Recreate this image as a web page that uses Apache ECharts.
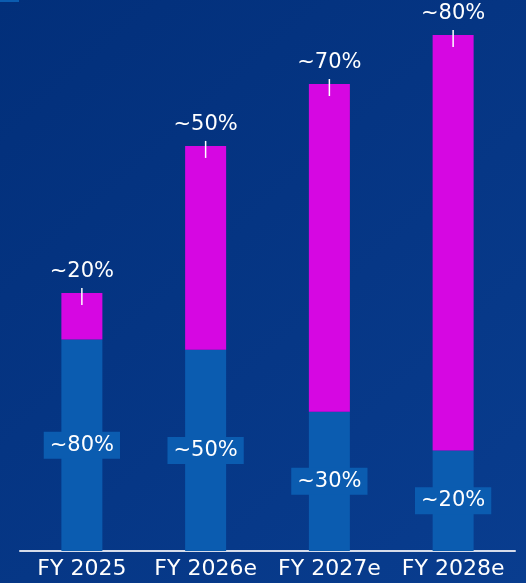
<!DOCTYPE html>
<html>
<head>
<meta charset="utf-8">
<script src="https://cdn.jsdelivr.net/npm/echarts@6/dist/echarts.min.js"></script>
<style>
html,body{margin:0;padding:0;background:#04327e;}
#chart{width:526px;height:583px;}
</style>
</head>
<body>
<div id="chart"></div>
<script>
// Categories and values (index, FY 2025 total = 100)
var categories = ['FY 2025', 'FY 2026e', 'FY 2027e', 'FY 2028e'];
var baseValues = [82, 78, 54, 39];        // blue segment
var growthValues = [18, 79, 127, 161];    // magenta segment
var baseLabels = ['~80%', '~50%', '~30%', '~20%'];
var growthLabels = ['~20%', '~50%', '~70%', '~80%'];

var FONT = 'DejaVu Sans';
var chart = echarts.init(document.getElementById('chart'), null, {renderer: 'canvas'});

chart.setOption({
  animation: false,
  backgroundColor: {
    type: 'linear', x: 0, y: 0, x2: 1, y2: 1,
    colorStops: [{offset: 0, color: '#022f7a'}, {offset: 1, color: '#093d8f'}]
  },
  graphic: [{
    type: 'rect', left: 0, top: 0,
    shape: {width: 19, height: 2},
    style: {fill: '#0b5cb0'}
  }],
  grid: {left: 20, right: 11, top: 35, bottom: 32, containLabel: false},
  xAxis: {
    type: 'category',
    data: categories,
    axisLine: {show: true, lineStyle: {color: '#d6dcea', width: 2}},
    axisTick: {show: false},
    axisLabel: {color: '#ffffff', fontSize: 22, fontFamily: FONT, margin: 7, interval: 0, hideOverlap: false}
  },
  yAxis: {
    type: 'value', min: 0, max: 200,
    show: false,
    splitLine: {show: false}
  },
  series: [
    {
      name: 'base',
      type: 'bar',
      stack: 'total',
      barWidth: 41,
      data: baseValues,
      itemStyle: {color: '#0b5cb0'},
      label: {
        show: true,
        position: 'inside',
        formatter: function (p) { return baseLabels[p.dataIndex]; },
        color: '#ffffff',
        fontSize: 21,
        fontFamily: FONT,
        backgroundColor: '#0b5cb0',
        padding: [3, 6, 3, 6]
      }
    },
    {
      name: 'growth',
      type: 'bar',
      stack: 'total',
      barWidth: 41,
      data: growthValues,
      itemStyle: {color: '#d607e2'},
      label: {
        show: true,
        position: 'top',
        distance: -12,
        formatter: function (p) { return '{t|' + growthLabels[p.dataIndex] + '}\n{l| }'; },
        rich: {
          t: {color: '#ffffff', fontSize: 21, fontFamily: FONT, lineHeight: 32, align: 'center'},
          l: {width: 1.5, height: 17, lineHeight: 17, backgroundColor: '#ffffff', fontSize: 1, align: 'center'}
        }
      }
    }
  ]
});
</script>
</body>
</html>
